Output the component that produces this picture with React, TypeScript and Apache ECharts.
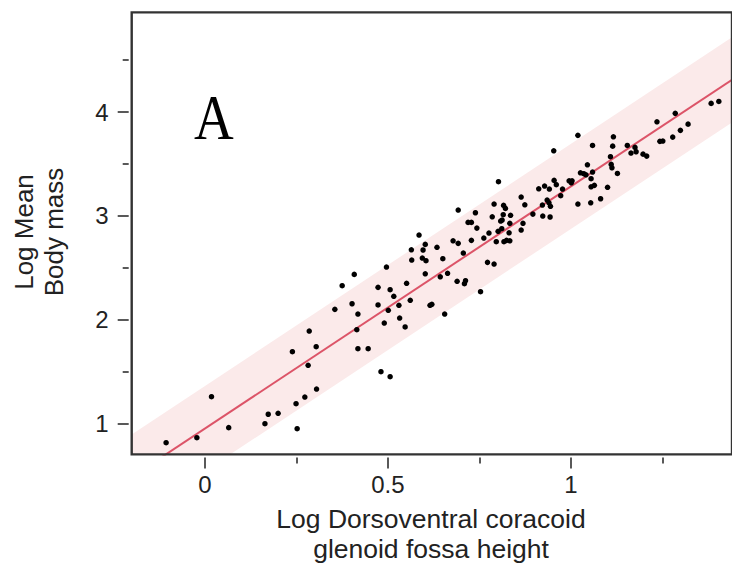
import React, { useEffect, useRef } from "react";
import * as echarts from "echarts";

// Observed data (Log dorsoventral coracoid glenoid fossa height vs Log mean body mass)
const xValues = [
  -0.106, -0.022, 0.018, 0.065, 0.164, 0.173, 0.2, 0.252, 0.249, 0.273, 0.305, 0.239, 0.282, 0.285, 0.304,
  0.355, 0.375, 0.408, 0.402, 0.418, 0.415, 0.418, 0.446, 0.481, 0.506, 0.473, 0.473, 0.496, 0.506, 0.516,
  0.49, 0.501, 0.53, 0.532, 0.547, 0.551, 0.561, 0.564, 0.565,
  0.585, 0.602, 0.596, 0.594, 0.604, 0.602, 0.615, 0.62, 0.634, 0.65, 0.643, 0.663, 0.692, 0.678, 0.692,
  0.706, 0.689, 0.712, 0.709, 0.753, 0.719, 0.728, 0.739, 0.743, 0.728, 0.762, 0.776, 0.772, 0.79, 0.79,
  0.785, 0.796, 0.801, 0.808, 0.812, 0.816, 0.821, 0.815, 0.835, 0.833, 0.811, 0.831, 0.817, 0.824, 0.833,
  0.864, 0.874, 0.869, 0.864, 0.896, 0.655, 0.802,
  0.953, 1.019, 0.912, 0.928, 0.941, 0.954, 0.96, 0.935, 0.94, 0.922, 0.944, 0.923, 0.943, 0.972, 0.977,
  0.995, 1.003, 1.001, 1.019, 1.026, 1.035, 1.041, 1.045, 1.059, 1.059, 1.055, 1.055, 1.064, 1.054, 1.081,
  1.1, 1.108, 1.11, 1.112, 1.116, 1.114, 1.127,
  1.154, 1.164, 1.175, 1.178, 1.197, 1.207, 1.235, 1.243, 1.251, 1.278, 1.285, 1.299, 1.32, 1.383, 1.404,
];
const yValues = [
  0.813, 0.861, 1.256, 0.958, 0.996, 1.087, 1.096, 0.948, 1.189, 1.253, 1.33, 1.69, 1.559, 1.889, 1.738,
  2.098, 2.326, 2.435, 2.152, 2.053, 1.902, 1.719, 1.719, 1.497, 1.449, 2.31, 2.14, 2.506, 2.287, 2.224,
  1.966, 2.089, 2.137, 2.014, 1.928, 2.349, 2.185, 2.672, 2.573,
  2.814, 2.724, 2.67, 2.592, 2.567, 2.441, 2.137, 2.146, 2.696, 2.586, 2.412, 2.445, 3.055, 2.759, 2.734,
  2.641, 2.368, 2.374, 2.345, 2.268, 2.936, 2.936, 3.029, 2.881, 2.763, 2.785, 2.833, 2.551, 2.535, 3.113,
  2.99, 2.75, 2.85, 2.949, 2.959, 3.1, 3.071, 3.01, 3.004, 2.927, 2.875, 2.836, 2.75, 2.763, 2.759,
  3.18, 3.106, 2.927, 2.862, 3.016, 2.053, 3.328,
  3.626, 3.775, 3.26, 3.286, 3.257, 3.341, 3.299, 3.151, 3.125, 3.103, 3.091, 2.997, 2.988, 3.193, 3.257,
  3.337, 3.337, 3.318, 3.113, 3.414, 3.405, 3.395, 3.491, 3.678, 3.421, 3.357, 3.279, 3.293, 3.125, 3.164,
  3.274, 3.569, 3.495, 3.462, 3.761, 3.671, 3.408,
  3.678, 3.604, 3.659, 3.617, 3.594, 3.575, 3.906, 3.717, 3.72, 3.758, 3.987, 3.823, 3.883, 4.083, 4.102,
];

// Fitted regression and its prediction band
const fitIntercept = 0.949;
const fitSlope = 2.334;
const bandHalfWidth = 0.41;

// Axis extents and ticks
const xRange = [-0.2, 1.44];
const yRange = [0.7, 4.96];
const xTickLabels = [0, 0.5, 1];
const xMinorTicks = [0.25, 0.75, 1.25];
const yTickLabels = [1, 2, 3, 4];
const yMinorTicks = [1.5, 2.5, 3.5, 4.5];

const xTitleLines = ["Log Dorsoventral coracoid", "glenoid fossa height"];
const yTitleLines = ["Log Mean", "Body mass"];
const panelLabel = "A";

const FONT = "'Liberation Sans', Arial, Helvetica, sans-serif";

export default function App() {
  const ref = useRef<HTMLDivElement | null>(null);

  useEffect(() => {
    document.body.style.margin = "0";
    if (!ref.current) return;
    const chart = echarts.init(ref.current, null, { renderer: "svg" });

    const scatterData = xValues.map((x, i) => [x, yValues[i]]);
    const fitLine = xRange.map((x) => [x, fitIntercept + fitSlope * x]);
    // band polygon corners: lower edge left->right, upper edge right->left
    const bandCorners = [
      ...xRange.map((x) => [x, fitIntercept + fitSlope * x - bandHalfWidth]),
      ...[...xRange].reverse().map((x) => [x, fitIntercept + fitSlope * x + bandHalfWidth]),
    ];

    const gridLeft = 131.7;
    const gridTop = 12.4;
    const gridWidth = 609.1;
    const gridHeight = 442;

    const tickLabelStyle = { color: "#222", fontSize: 24, fontFamily: FONT };
    const tickLine = { color: "#222", width: 1.5 };

    chart.setOption({
      animation: false,
      grid: {
        left: gridLeft,
        top: gridTop,
        width: gridWidth,
        height: gridHeight,
        show: true,
        borderColor: "#333",
        borderWidth: 2.4,
        backgroundColor: "transparent",
        z: 10,
      },
      xAxis: [
        {
          type: "value",
          min: xRange[0],
          max: xRange[1],
          offset: 3,
          axisLine: { show: false, onZero: false },
          splitLine: { show: false },
          axisTick: { show: true, customValues: xTickLabels, length: 11, lineStyle: tickLine },
          axisLabel: { show: true, customValues: xTickLabels, margin: 15, ...tickLabelStyle, formatter: (v: number) => String(v) },
        },
        {
          type: "value",
          position: "bottom",
          min: xRange[0],
          max: xRange[1],
          offset: 3,
          axisLine: { show: false, onZero: false },
          splitLine: { show: false },
          axisTick: { show: true, customValues: xMinorTicks, length: 6, lineStyle: tickLine },
          axisLabel: { show: false },
        },
      ],
      yAxis: [
        {
          type: "value",
          min: yRange[0],
          max: yRange[1],
          offset: 3,
          axisLine: { show: false, onZero: false },
          splitLine: { show: false },
          axisTick: { show: true, customValues: yTickLabels, length: 11, lineStyle: tickLine },
          axisLabel: { show: true, customValues: yTickLabels, margin: 20, ...tickLabelStyle, formatter: (v: number) => String(v) },
        },
        {
          type: "value",
          position: "left",
          min: yRange[0],
          max: yRange[1],
          offset: 3,
          axisLine: { show: false, onZero: false },
          splitLine: { show: false },
          axisTick: { show: true, customValues: yMinorTicks, length: 6, lineStyle: tickLine },
          axisLabel: { show: false },
        },
      ],
      series: [
        {
          type: "custom",
          clip: true,
          silent: true,
          z: 1,
          data: [0],
          renderItem: (_params: any, api: any) => ({
            type: "polygon",
            shape: { points: bandCorners.map((c) => api.coord(c)) },
            style: { fill: "#fbeaea" },
          }),
        },
        {
          type: "line",
          data: fitLine,
          symbol: "none",
          lineStyle: { color: "#dc5468", width: 2 },
          silent: true,
          z: 2,
        },
        {
          type: "scatter",
          data: scatterData,
          symbol: "circle",
          symbolSize: 5.5,
          itemStyle: { color: "#000", opacity: 1 },
          z: 3,
        },
      ],
      graphic: [
        {
          type: "text",
          x: 194,
          y: 118,
          scaleX: 0.86,
          style: {
            text: panelLabel,
            fontFamily: "'Liberation Serif', 'Times New Roman', serif",
            fontSize: 64,
            fill: "#000",
            textAlign: "left",
            textVerticalAlign: "middle",
          },
        },
        ...xTitleLines.map((t, i) => ({
          type: "text",
          x: 431,
          y: 519 + i * 30,
          style: {
            text: t,
            fontFamily: FONT,
            fontSize: 26.5,
            fill: "#222",
            textAlign: "center",
            textVerticalAlign: "middle",
          },
        })),
        ...yTitleLines.map((t, i) => ({
          type: "text",
          x: 24 + i * 30,
          y: 232,
          rotation: Math.PI / 2,
          style: {
            text: t,
            fontFamily: FONT,
            fontSize: 26,
            fill: "#222",
            textAlign: "center",
            textVerticalAlign: "middle",
          },
        })),
      ],
    });

    return () => {
      chart.dispose();
    };
  }, []);

  return (
    <div
      ref={ref}
      style={{ position: "fixed", left: 0, top: 0, width: 732, height: 565, background: "#fff" }}
    />
  );
}
